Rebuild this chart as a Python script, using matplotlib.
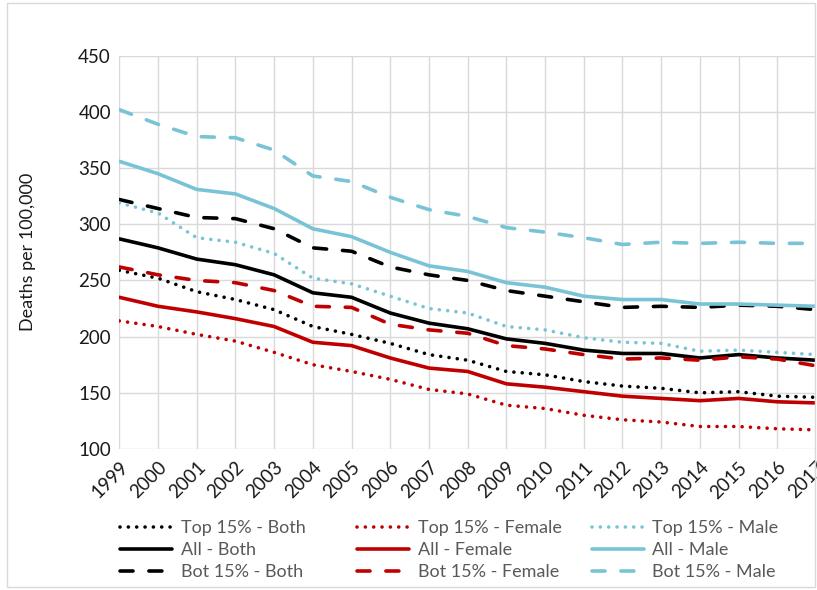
import matplotlib
matplotlib.use('Agg')
import matplotlib.pyplot as plt
from matplotlib.patches import Rectangle

plt.rcParams['font.family'] = ['Lato', 'DejaVu Sans']

years = list(range(1999, 2018))

# deaths per 100,000
top_both = [259, 252, 240, 233, 224, 209, 202, 194, 184, 179, 169, 166, 160, 156, 154, 150, 151, 147, 146]
all_both = [287, 279, 269, 264, 255, 239, 235, 221, 212, 207, 198, 194, 188, 185, 185, 181, 184, 181, 179]
bot_both = [322, 314, 306, 305, 296, 279, 276, 262, 255, 250, 241, 236, 231, 226, 227, 226, 228, 227, 224]

top_female = [214, 209, 202, 196, 186, 175, 169, 162, 153, 149, 139, 136, 130, 126, 124, 120, 120, 118, 117]
all_female = [235, 227, 222, 216, 209, 195, 192, 181, 172, 169, 158, 155, 151, 147, 145, 143, 145, 142, 141]
bot_female = [262, 255, 250, 248, 241, 227, 226, 211, 206, 203, 192, 189, 184, 180, 181, 179, 182, 180, 174]

top_male = [319, 310, 288, 284, 274, 252, 247, 236, 225, 221, 209, 206, 199, 195, 194, 187, 188, 186, 184]
all_male = [356, 345, 331, 327, 314, 296, 289, 275, 263, 258, 248, 244, 236, 233, 233, 229, 229, 228, 227]
bot_male = [402, 389, 378, 377, 366, 343, 338, 324, 313, 307, 297, 293, 288, 282, 284, 283, 284, 283, 283]

groups = ['Both', 'Female', 'Male']
colors = {'Both': '#000000', 'Female': '#C00000', 'Male': '#78C4D6'}
series = {
    'Both': [top_both, all_both, bot_both],
    'Female': [top_female, all_female, bot_female],
    'Male': [top_male, all_male, bot_male],
}
prefixes = ['Top 15%', 'All', 'Bot 15%']
styles = [(0, (0.01, 2.3)), '-', (0, (3.6, 4.4))]

fig = plt.figure(figsize=(8.17, 5.9), dpi=100)
ax = fig.add_axes([0.146, 0.239, 0.8528, 0.6666])

handles = {}
for g in groups:
    handles[g] = []
    for pre, ls, vals in zip(prefixes, styles, series[g]):
        ln, = ax.plot(years, vals, color=colors[g], lw=2.6, linestyle=ls,
                      dash_capstyle='round', solid_capstyle='round',
                      label=f'{pre} - {g}')
        handles[g].append(ln)

ax.set_xlim(1999, 2017)
ax.set_ylim(100, 450)
ax.set_yticks(range(100, 451, 50))
ax.set_xticks(years)
ax.set_xticklabels([str(y) for y in years], rotation=45, ha='right',
                   rotation_mode='anchor')
ax.grid(True, color='#D9D9D9', lw=1)
ax.set_axisbelow(True)
for s in ax.spines.values():
    s.set_visible(False)
ax.tick_params(length=0, labelsize=13.5, colors='#1a1a1a')
ax.tick_params(axis='x', pad=7)
ax.tick_params(axis='y', pad=6)
ax.set_ylabel('Deaths per 100,000', fontsize=13, color='#1a1a1a', labelpad=30)

# one legend per column, like the Excel layout
col_x = [0.147, 0.437, 0.724]
for g, x in zip(groups, col_x):
    leg = fig.legend(handles=handles[g], loc='upper left',
                     bbox_to_anchor=(x, 0.118), frameon=False,
                     fontsize=13, handlelength=2.9, handletextpad=0.45,
                     labelspacing=0.33, borderpad=0, borderaxespad=0)
    for t in leg.get_texts():
        t.set_color('#595959')

fig.patches.append(Rectangle((0.008, 0.005), 0.99, 0.99, transform=fig.transFigure,
                             fill=False, edgecolor='#D9D9D9', lw=1))

fig.savefig('out.png', dpi=100)
